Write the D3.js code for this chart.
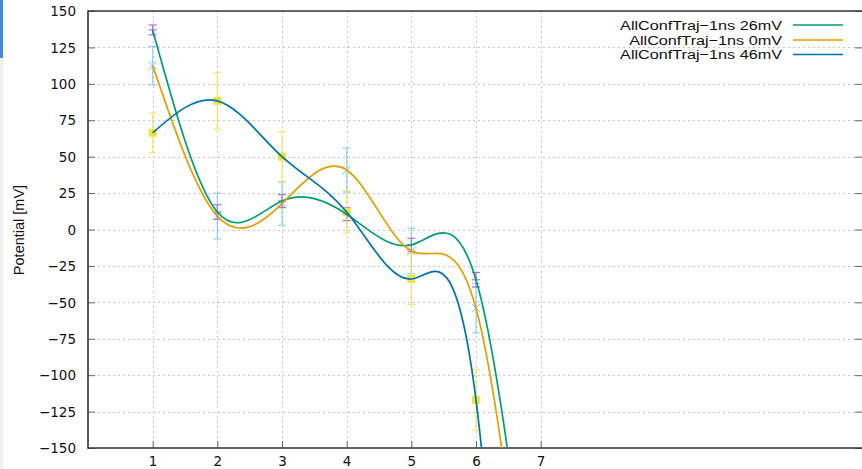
<!DOCTYPE html>
<html><head><meta charset="utf-8">
<script src="https://cdn.jsdelivr.net/npm/d3@7"></script>
<style>body{margin:0;background:#fff;} svg{display:block;}</style>
</head><body>
<script>
// ---- data ----
const xs = [1, 2, 3, 4, 5, 6];
const xTicks = [1, 2, 3, 4, 5, 6, 7];
const yTicks = [-150, -125, -100, -75, -50, -25, 0, 25, 50, 75, 100, 125, 150];
const seriesNames = ["AllConfTraj\u22121ns 26mV", "AllConfTraj\u22121ns 0mV", "AllConfTraj\u22121ns 46mV"];
// measured points (mean) and errors
const val26 = [137, 12, 19.5, 10.5, -10.5, -34.5];
const err26 = [3.4, 5, 4.5, 4.4, 4.5, 5];
const val0 = [112.5, 9.2, 17.8, 40.8, -14.8, -54];
const err0 = [13.2, 15.7, 14.9, 15.1, 15.6, 17];
const val46 = [66.4, 88.3, 50, 12, -34, -117];
const err46 = [13.5, 19.5, 17.3, 14.5, 17.5, 20.6];
// spline knots (the data plus the off-scale value at x=7)
const lineX = [1, 2, 3, 4, 5, 6, 7];
const line26 = [137, 12, 19.5, 10.5, -10.5, -34.5, -330];
const line0 = [112.5, 9.2, 17.8, 40.8, -14.8, -54, -370];
const line46 = [66.4, 88.3, 50, 12, -34, -117, -768];

const W = 862, H = 469;
const L = 88, R = 864, T = 11, B = 448;
const svg = d3.select("body").append("svg").attr("width", W).attr("height", H);

// window artefacts at left
svg.append("rect").attr("x", 0).attr("y", 0).attr("width", 3).attr("height", H).attr("fill", "#f0f0f0");
svg.append("rect").attr("x", 0).attr("y", 0).attr("width", 3).attr("height", 58).attr("fill", "#4a86e8");

const x = d3.scaleLinear().domain([0, 12]).range([L, R]);
const y = d3.scaleLinear().domain([-150, 150]).range([B, T]);

// grid
const grid = svg.append("g").attr("stroke", "#c8c8c8").attr("stroke-width", 1).attr("stroke-dasharray", "2,3");
grid.selectAll("line.gx").data(xTicks).join("line")
  .attr("x1", d => Math.round(x(d)) + 0.5).attr("x2", d => Math.round(x(d)) + 0.5)
  .attr("y1", T).attr("y2", B);
grid.selectAll("line.gy").data(yTicks.filter(d => d > -150 && d < 150)).join("line")
  .attr("x1", L).attr("x2", R)
  .attr("y1", d => Math.round(y(d)) + 0.5).attr("y2", d => Math.round(y(d)) + 0.5);

// axes
const yAxis = d3.axisLeft(y).tickValues(yTicks).tickSize(-7).tickPadding(12)
  .tickFormat(d => d < 0 ? "\u2212" + Math.abs(d) : String(d));
const gy = svg.append("g").attr("transform", `translate(${L},0)`).call(yAxis);
gy.select(".domain").remove();
gy.selectAll("line").attr("stroke", "#666");
gy.selectAll("text").attr("font-family", "DejaVu Sans").attr("font-size", 13.5).attr("fill", "#111").attr("dy", "0.35em");

const yAxisR = d3.axisRight(y).tickValues(yTicks).tickSize(-7).tickFormat("");
const gyr = svg.append("g").attr("transform", `translate(${R - 2},0)`).call(yAxisR);
gyr.select(".domain").remove();
gyr.selectAll("line").attr("stroke", "#666");

const xAxis = d3.axisBottom(x).tickValues(xTicks).tickSize(-7).tickPadding(8).tickFormat(d3.format("d"));
const gx = svg.append("g").attr("transform", `translate(0,${B})`).call(xAxis);
gx.select(".domain").remove();
gx.selectAll("line").attr("stroke", "#666");
gx.selectAll("text").attr("font-family", "DejaVu Sans").attr("font-size", 13.5).attr("fill", "#111");

// border
svg.append("path").attr("d", `M${R},${T}H${L}V${B}H${R}`).attr("fill", "none").attr("stroke", "#333").attr("stroke-width", 1.6);

// y label
svg.append("text").attr("transform", "translate(24,230) rotate(-90)").attr("text-anchor", "middle")
  .attr("font-family", "Liberation Sans").attr("font-size", 14.5).attr("fill", "#111").text("Potential [mV]");

// clip
svg.append("clipPath").attr("id", "clip").append("rect").attr("x", L).attr("y", T).attr("width", R - L).attr("height", B - T);
const plot = svg.append("g").attr("clip-path", "url(#clip)");

// error bars + markers
function errbars(vals, errs, color) {
  const g = plot.append("g").attr("stroke", color).attr("stroke-width", 1.2).attr("opacity", 0.6);
  xs.forEach((xv, i) => {
    const cx = x(xv), y1 = y(vals[i] + errs[i]), y2 = y(vals[i] - errs[i]);
    g.append("line").attr("x1", cx).attr("x2", cx).attr("y1", y1).attr("y2", y2);
    g.append("line").attr("x1", cx - 4).attr("x2", cx + 4).attr("y1", y1).attr("y2", y1);
    g.append("line").attr("x1", cx - 4).attr("x2", cx + 4).attr("y1", y2).attr("y2", y2);
  });
  return g;
}
const gP = errbars(val26, err26, "#9400d3");
xs.forEach((xv, i) => {
  const cx = x(xv), cy = y(val26[i]);
  gP.append("line").attr("x1", cx - 4).attr("x2", cx + 4).attr("y1", cy).attr("y2", cy);
});
const gS = errbars(val0, err0, "#56b4e9");
xs.forEach((xv, i) => {
  const cx = x(xv), cy = y(val0[i]);
  gS.append("path").attr("d", `M${cx - 4},${cy - 4}L${cx + 4},${cy + 4}M${cx - 4},${cy + 4}L${cx + 4},${cy - 4}`);
});
const gY = errbars(val46, err46, "#f0e442");
gY.attr("opacity", 0.75);
xs.forEach((xv, i) => {
  const cx = x(xv), cy = y(val46[i]);
  plot.append("rect").attr("x", cx - 4).attr("y", cy - 4).attr("width", 8).attr("height", 8).attr("fill", "#f0e442");
});

// spline lines
const lineGen = d3.line().x(d => x(d[0])).y(d => y(d[1])).curve(d3.curveNatural);
const colors = ["#009e73", "#e69f00", "#0072b2"];
[line26, line0, line46].forEach((vals, k) => {
  plot.append("path").datum(lineX.map((xv, i) => [xv, vals[i]]))
    .attr("d", lineGen).attr("fill", "none").attr("stroke", colors[k]).attr("stroke-width", 1.7);
});

// legend
const legY = [25, 40, 54.5];
seriesNames.forEach((nm, k) => {
  svg.append("text").attr("transform", `translate(782,${legY[k]}) scale(1.2,1)`).attr("dy", "0.35em").attr("text-anchor", "end")
    .attr("font-family", "Liberation Sans").attr("font-size", 13.5).attr("fill", "#111").text(nm);
  svg.append("line").attr("x1", 793).attr("x2", 843).attr("y1", legY[k]).attr("y2", legY[k])
    .attr("stroke", colors[k]).attr("stroke-width", 1.7);
});
</script>
</body></html>
